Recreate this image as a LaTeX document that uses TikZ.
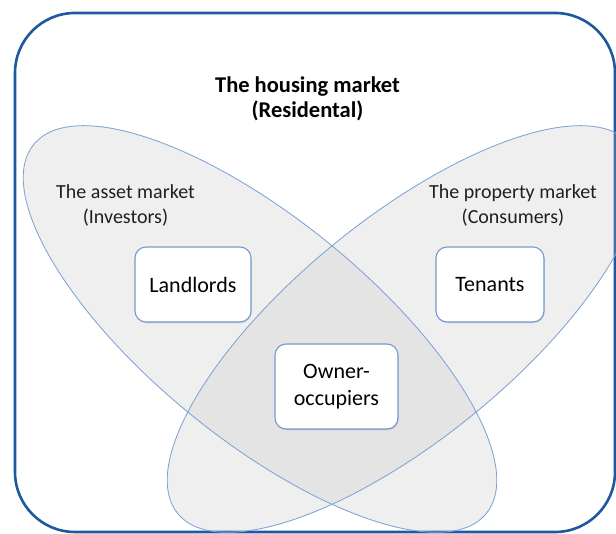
\documentclass[tikz,border=0pt]{standalone}
\usepackage{fontspec}
\setmainfont{Carlito}
\usetikzlibrary{shadows}
\definecolor{frameblue}{RGB}{30,88,158}
\definecolor{ellline}{RGB}{125,163,212}
\definecolor{boxline}{RGB}{115,155,208}
\definecolor{ellfill}{RGB}{190,190,190}
\begin{document}
\begin{tikzpicture}[x=1pt,y=1pt,
  frame/.style={draw=frameblue, line width=2.6pt, rounded corners=60pt},
  market/.style={fill=ellfill, fill opacity=0.24},
  marketline/.style={draw=ellline, line width=0.85pt},
  actor/.style={draw=boxline, line width=1.1pt, fill=white, rounded corners=11pt,
    inner sep=0pt, align=center, font=\fontsize{22}{27.4}\selectfont,
    drop shadow={shadow xshift=0.8pt, shadow yshift=-1.4pt, opacity=0.22}},
  lbl/.style={align=center, font=\fontsize{20}{25}\selectfont, text=black!88},
  titlestyle/.style={align=center, font=\bfseries\fontsize{22.5}{24.6}\selectfont}]
\useasboundingbox (0,0) rectangle (616,534);
\clip (0,0) rectangle (616,534);
\draw[frame] (15,2) rectangle (615,521);
% market ellipses
\fill[market, rotate around={-39.2:(260,205)}] (260,205) ellipse [x radius=292, y radius=110];
\fill[market, rotate around={39.2:(404,205)}] (404,205) ellipse [x radius=292, y radius=110];
\draw[marketline, rotate around={-39.2:(260,205)}] (260,205) ellipse [x radius=292, y radius=110];
\draw[marketline, rotate around={39.2:(404,205)}] (404,205) ellipse [x radius=292, y radius=110];
% texts
\node[titlestyle] (title) at (307.5,435.4) {The housing market\\(Residental)};
\node[lbl] (asset) at (125.5,328.9) {The asset market\\(Investors)};
\node[lbl] (property) at (513,328.9) {The property market\\(Consumers)};
% actor boxes
\node[actor, minimum width=116pt, minimum height=75pt] (landlords) at (193,249.5) {Landlords};
\node[actor, minimum width=108pt, minimum height=75pt] (tenants) at (490,249.5) {Tenants};
\node[actor, minimum width=123pt, minimum height=85pt] (owners) at (336.5,147.5) {Owner-\\occupiers};
\end{tikzpicture}
\end{document}
